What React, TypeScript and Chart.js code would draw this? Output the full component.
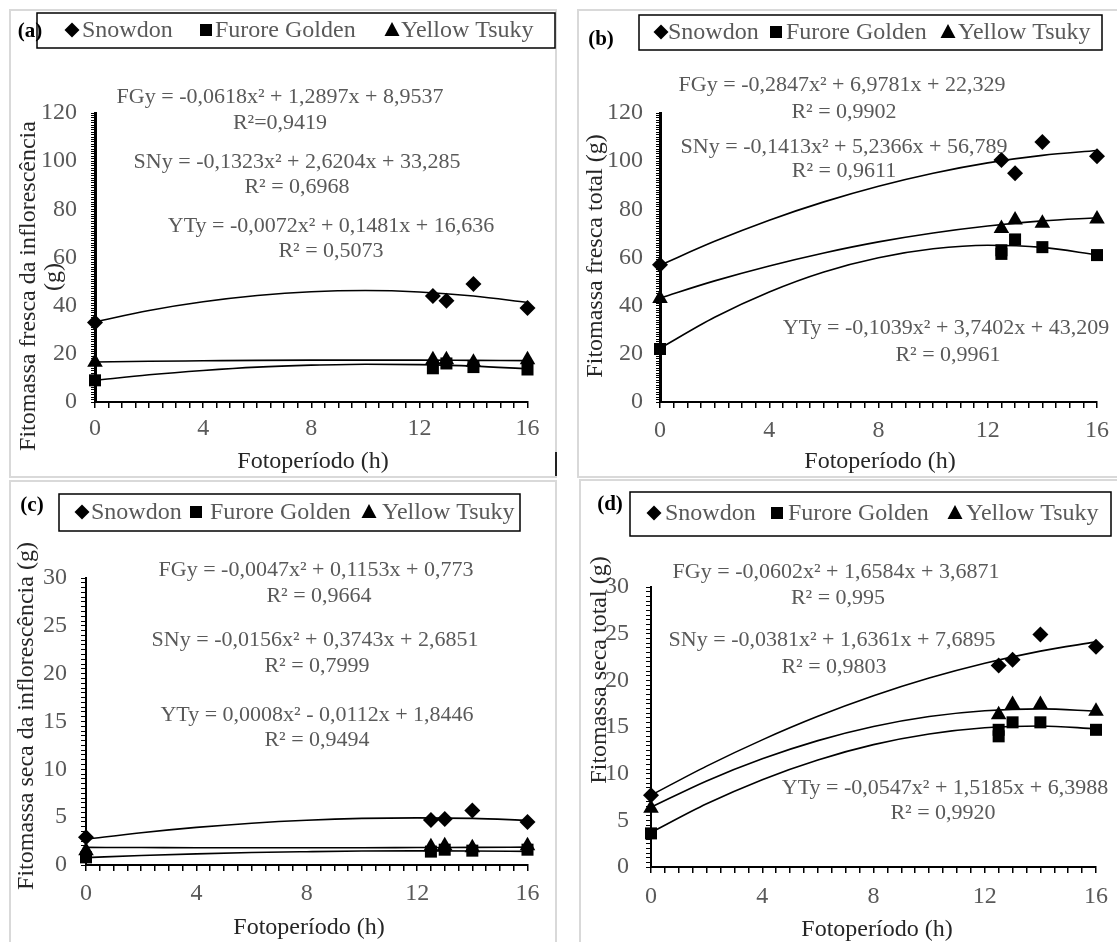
import React, { useEffect, useRef } from 'react';
import { Chart, registerables } from 'chart.js';

Chart.register(...registerables);

const FONT = "'Liberation Serif', 'Times New Roman', Times, serif";
Chart.defaults.font.family = FONT;

// ---------------- DATA ----------------
const seriesNames = ['Snowdon', 'Furore Golden', 'Yellow Tsuky'];
const xTickLabels = [0, 4, 8, 12, 16];
const yTickLabelsFresh = [0, 20, 40, 60, 80, 100, 120];
const yTickLabelsDry = [0, 5, 10, 15, 20, 25, 30];
const xAxisTitle = 'Fotoperíodo (h)';

const photoperiodObs = [0, 12.5, 13, 14, 16];
const photoperiodObsFG = [0, 12.5, 12.5, 13, 14, 16];
const photoperiodFit = [0, 2, 4, 6, 8, 10, 12, 14, 16];

// (a) Fitomassa fresca da inflorescência
const aSnowdon = [33, 44, 42, 49, 39];
const aFurore = [9, 14, 16, 14.5, 13.5];
const aYellow = [16.5, 17.5, 17.5, 16.5, 17.5];
const aSnowdonFit = [33.3, 38.0, 41.6, 44.2, 45.8, 46.3, 45.7, 44.0, 41.3];
const aFuroreFit = [9.0, 11.3, 13.1, 14.5, 15.3, 15.7, 15.5, 14.9, 13.8];
const aYellowFit = [16.6, 16.9, 17.1, 17.3, 17.4, 17.4, 17.4, 17.3, 17.2];
const aEquations = [
  'FGy = -0,0618x² + 1,2897x + 8,9537', 'R²=0,9419',
  'SNy = -0,1323x² + 2,6204x + 33,285', 'R² = 0,6968',
  'YTy = -0,0072x² + 0,1481x + 16,636', 'R² = 0,5073',
];
const aTitle = ['Fitomassa fresca da inflorescência', '(g)'];

// (b) Fitomassa fresca total
const bSnowdon = [57, 100.5, 95, 108, 102];
const bFurore = [22, 61.5, 63, 67.5, 64.3, 61];
const bYellow = [43, 72, 75.6, 74.2, 76];
const bSnowdonFit = [56.8, 66.7, 75.5, 83.1, 89.6, 95.0, 99.3, 102.4, 104.4];
const bFuroreFit = [22.3, 35.2, 45.7, 54.0, 59.9, 63.6, 65.1, 64.2, 61.1];
const bYellowFit = [43.2, 50.3, 56.5, 61.9, 66.5, 70.2, 73.1, 75.2, 76.5];
const bEquations = [
  'FGy = -0,2847x² + 6,9781x + 22,329', 'R² = 0,9902',
  'SNy = -0,1413x² + 5,2366x + 56,789', 'R² = 0,9611',
  'YTy = -0,1039x² + 3,7402x + 43,209', 'R² = 0,9961',
];
const bTitle = ['Fitomassa fresca total (g)'];

// (c) Fitomassa seca da inflorescência
const cSnowdon = [2.9, 4.7, 4.8, 5.7, 4.5];
const cFurore = [0.8, 1.4, 1.6, 1.5, 1.6];
const cYellow = [1.5, 1.9, 2.0, 1.8, 2.0];
const cSnowdonFit = [2.69, 3.37, 3.93, 4.37, 4.68, 4.87, 4.93, 4.87, 4.68];
const cFuroreFit = [0.77, 0.99, 1.16, 1.3, 1.39, 1.46, 1.48, 1.47, 1.42];
const cYellowFit = [1.84, 1.83, 1.81, 1.81, 1.81, 1.81, 1.83, 1.84, 1.87];
const cEquations = [
  'FGy = -0,0047x² + 0,1153x + 0,773', 'R² = 0,9664',
  'SNy = -0,0156x² + 0,3743x + 2,6851', 'R² = 0,7999',
  'YTy = 0,0008x² - 0,0112x + 1,8446', 'R² = 0,9494',
];
const cTitle = ['Fitomassa seca da inflorescência (g)'];

// (d) Fitomassa seca total
const dSnowdon = [7.7, 21.6, 22.2, 24.9, 23.6];
const dFurore = [3.6, 14.0, 14.7, 15.5, 15.5, 14.7];
const dYellow = [6.3, 16.3, 17.4, 17.4, 16.7];
const dSnowdonFit = [7.69, 10.81, 13.62, 16.14, 18.34, 20.24, 21.83, 23.13, 24.12];
const dFuroreFit = [3.69, 6.77, 9.36, 11.47, 13.11, 14.25, 14.92, 15.11, 14.81];
const dYellowFit = [6.4, 9.22, 11.59, 13.54, 15.05, 16.12, 16.74, 16.94, 16.7];
const dEquations = [
  'FGy = -0,0602x² + 1,6584x + 3,6871', 'R² = 0,995',
  'SNy = -0,0381x² + 1,6361x + 7,6895', 'R² = 0,9803',
  'YTy = -0,0547x² + 1,5185x + 6,3988', 'R² = 0,9920',
];
const dTitle = ['Fitomassa seca total (g)'];

// ---------------- LAYOUT ----------------
const panels: any[] = [
  {
    key: 'a', letter: '(a)', ox: 0, oy: 0, cw: 557, ch: 478,
    area: { L: 95, T: 113, R: 527.5, B: 402 },
    yMax: 120, yMinor: 1, yLabels: yTickLabelsFresh, yTickLen: 4, yPad: 14, yBorder: 3, xPad: 6,
    sn: aSnowdon, fg: aFurore, fgX: photoperiodObs, yt: aYellow,
    snFit: aSnowdonFit, fgFit: aFuroreFit, ytFit: aYellowFit,
    letterPos: [30, 32],
    legendBox: [37, 13, 555, 48], legendY: 30, legendMarkers: [72, 206, 392], legendText: [82, 215, 401],
    equations: aEquations,
    eqPos: [[280, 97], [280, 123], [297, 162], [297, 187], [331, 226], [331, 251]],
    yTitle: aTitle, yTitlePos: [[29, 286], [54, 277]],
    xTitlePos: [313, 462],
  },
  {
    key: 'b', letter: '(b)', ox: 557, oy: 0, cw: 560, ch: 478,
    area: { L: 660, T: 113, R: 1098, B: 402 },
    yMax: 120, yMinor: 1, yLabels: yTickLabelsFresh, yTickLen: 4, yPad: 13, yBorder: 3, xPad: 8,
    sn: bSnowdon, fg: bFurore, fgX: photoperiodObsFG, yt: bYellow,
    snFit: bSnowdonFit, fgFit: bFuroreFit, ytFit: bYellowFit,
    letterPos: [601, 40],
    legendBox: [639, 15, 1102, 50], legendY: 32, legendMarkers: [661, 776, 948], legendText: [668, 786, 958],
    equations: bEquations,
    eqPos: [[842, 85], [844, 112], [844, 147], [844, 171], [946, 328], [948, 355]],
    yTitle: bTitle, yTitlePos: [[596, 256]],
    xTitlePos: [880, 462],
  },
  {
    key: 'c', letter: '(c)', ox: 0, oy: 478, cw: 557, ch: 464,
    area: { L: 86, T: 578, R: 527.5, B: 865 },
    yMax: 30, yMinor: 0.5, yLabels: yTickLabelsDry, yTickLen: 5, yPad: 14, yBorder: 2, xPad: 8,
    sn: cSnowdon, fg: cFurore, fgX: photoperiodObs, yt: cYellow,
    snFit: cSnowdonFit, fgFit: cFuroreFit, ytFit: cYellowFit,
    letterPos: [32, 506],
    legendBox: [59, 494, 520, 531], legendY: 512, legendMarkers: [82, 196, 369], legendText: [91, 210, 382],
    equations: cEquations,
    eqPos: [[316, 570], [319, 596], [315, 640], [317, 666], [317, 715], [317, 740]],
    yTitle: cTitle, yTitlePos: [[27, 716]],
    xTitlePos: [309, 928],
  },
  {
    key: 'd', letter: '(d)', ox: 557, oy: 478, cw: 560, ch: 464,
    area: { L: 651, T: 587, R: 1101, B: 867 },
    yMax: 30, yMinor: 0.5, yLabels: yTickLabelsDry, yTickLen: 5, yPad: 17, yBorder: 2, xPad: 9,
    sn: dSnowdon, fg: dFurore, fgX: photoperiodObsFG, yt: dYellow,
    snFit: dSnowdonFit, fgFit: dFuroreFit, ytFit: dYellowFit,
    letterPos: [610, 505],
    legendBox: [630, 492, 1111, 536], legendY: 513, legendMarkers: [654, 777, 955], legendText: [665, 788, 966],
    equations: dEquations,
    eqPos: [[836, 572], [838, 598], [832, 640], [834, 667], [945, 788], [943, 813]],
    yTitle: dTitle, yTitlePos: [[600, 670]],
    xTitlePos: [877, 930],
  },
];

const GRAY = '#595959';
const DARK = '#262626';

function drawMarker(ctx: CanvasRenderingContext2D, kind: number, x: number, y: number) {
  ctx.beginPath();
  if (kind === 0) {
    ctx.moveTo(x, y - 7.5); ctx.lineTo(x + 7.5, y); ctx.lineTo(x, y + 7.5); ctx.lineTo(x - 7.5, y);
  } else if (kind === 1) {
    ctx.rect(x - 6, y - 6, 12, 12);
  } else {
    ctx.moveTo(x, y - 8); ctx.lineTo(x + 7.5, y + 6); ctx.lineTo(x - 7.5, y + 6);
  }
  ctx.closePath();
  ctx.fillStyle = '#000';
  ctx.fill();
}

function buildConfig(p: any) {
  const L = p.area.L - p.ox, T = p.area.T - p.oy, R = p.area.R - p.ox, B = p.area.B - p.oy;
  const WY = 60, HX = 50;
  const padding = { left: L - WY, top: T, right: p.cw - R, bottom: p.ch - B - HX };
  const pts = (xs: number[], ys: number[]) => ys.map((y, i) => ({ x: xs[i], y }));
  const markerDs = (label: string, xs: number[], ys: number[], style: string, radius: number) => ({
    type: 'scatter', label, data: pts(xs, ys), pointStyle: style, pointRadius: radius, pointHoverRadius: radius,
    backgroundColor: '#000', borderColor: '#000', borderWidth: 0, showLine: false, order: 1, clip: false,
  });
  const fitDs = (label: string, ys: number[]) => ({
    type: 'line', label, data: pts(photoperiodFit, ys), borderColor: '#000', borderWidth: 1.6,
    pointRadius: 0, pointHoverRadius: 0, cubicInterpolationMode: 'monotone', fill: false, order: 2, clip: false,
  });

  const annot = {
    id: 'annot_' + p.key,
    afterDraw(chart: any) {
      const ctx: CanvasRenderingContext2D = chart.ctx;
      const X = (x: number) => x - p.ox;
      const Y = (y: number) => y - p.oy;
      ctx.save();
      // legend box
      const [bx1, by1, bx2, by2] = p.legendBox;
      ctx.strokeStyle = '#000';
      ctx.lineWidth = 1.5;
      ctx.strokeRect(X(bx1), Y(by1), bx2 - bx1, by2 - by1);
      ctx.font = `24px ${FONT}`;
      ctx.textBaseline = 'middle';
      ctx.textAlign = 'left';
      for (let i = 0; i < 3; i++) {
        drawMarker(ctx, i, X(p.legendMarkers[i]), Y(p.legendY));
        ctx.fillStyle = GRAY;
        ctx.fillText(seriesNames[i], X(p.legendText[i]), Y(p.legendY + 1));
      }
      // panel letter
      ctx.font = `bold 21px ${FONT}`;
      ctx.fillStyle = '#000';
      ctx.textAlign = 'center';
      ctx.fillText(p.letter, X(p.letterPos[0]), Y(p.letterPos[1]));
      // equations
      ctx.font = `22px ${FONT}`;
      ctx.fillStyle = GRAY;
      p.equations.forEach((t: string, i: number) => {
        ctx.fillText(t, X(p.eqPos[i][0]), Y(p.eqPos[i][1]));
      });
      // x title
      ctx.font = `24px ${FONT}`;
      ctx.fillStyle = DARK;
      ctx.fillText(xAxisTitle, X(p.xTitlePos[0]), Y(p.xTitlePos[1]));
      // y title
      p.yTitle.forEach((t: string, i: number) => {
        ctx.save();
        ctx.translate(X(p.yTitlePos[i][0]), Y(p.yTitlePos[i][1]));
        ctx.rotate(-Math.PI / 2);
        ctx.fillText(t, 0, 0);
        ctx.restore();
      });
      ctx.restore();
    },
  };

  return {
    type: 'scatter',
    data: {
      datasets: [
        markerDs(seriesNames[0], photoperiodObs, p.sn, 'rectRot', 8),
        markerDs(seriesNames[1], p.fgX, p.fg, 'rect', 8.5),
        markerDs(seriesNames[2], photoperiodObs, p.yt, 'triangle', 9),
        fitDs('SN fit', p.snFit),
        fitDs('FG fit', p.fgFit),
        fitDs('YT fit', p.ytFit),
      ],
    },
    options: {
      responsive: false,
      maintainAspectRatio: false,
      devicePixelRatio: 1,
      animation: false,
      events: [],
      layout: { padding },
      plugins: { legend: { display: false }, tooltip: { enabled: false }, title: { display: false } },
      scales: {
        x: {
          type: 'linear', position: 'bottom', min: 0, max: 16,
          afterFit: (s: any) => { s.height = HX; },
          ticks: {
            stepSize: 0.5, autoSkip: false, maxRotation: 0, minRotation: 0, padding: p.xPad,
            color: GRAY, font: { family: FONT, size: 24 },
            callback: (v: any) => (xTickLabels.includes(Number(v)) ? String(v) : ''),
          },
          grid: { display: true, drawOnChartArea: false, drawTicks: true, tickLength: 6, color: '#000', lineWidth: 1.5 },
          border: { display: true, color: '#000', width: 2 },
          title: { display: false },
        },
        y: {
          type: 'linear', position: 'left', min: 0, max: p.yMax,
          afterFit: (s: any) => { s.width = WY; },
          ticks: {
            stepSize: p.yMinor, autoSkip: false, padding: p.yPad,
            color: GRAY, font: { family: FONT, size: 24 },
            callback: (v: any) => (p.yLabels.includes(Number(v)) ? String(v) : ''),
          },
          grid: { display: true, drawOnChartArea: false, drawTicks: true, tickLength: p.yTickLen, color: '#000', lineWidth: 1 },
          border: { display: true, color: '#000', width: p.yBorder },
          title: { display: false },
        },
      },
    },
    plugins: [annot],
  };
}

function Panel({ p }: { p: any }) {
  const ref = useRef<HTMLCanvasElement>(null);
  useEffect(() => {
    if (!ref.current) return;
    const chart = new Chart(ref.current, buildConfig(p) as any);
    return () => chart.destroy();
  }, [p]);
  return (
    <canvas
      ref={ref}
      width={p.cw}
      height={p.ch}
      style={{ position: 'absolute', left: p.ox, top: p.oy, width: p.cw, height: p.ch }}
    />
  );
}

const borderStyle = '2px solid #d9d9d9';

export default function App() {
  return (
    <div style={{ position: 'absolute', left: 0, top: 0, width: 1117, height: 942, overflow: 'hidden', background: '#fff' }}>
      <div style={{ position: 'absolute', left: 9, top: 9, width: 548, height: 469, border: borderStyle, boxSizing: 'border-box' }} />
      <div style={{ position: 'absolute', left: 577, top: 9, width: 600, height: 469, border: borderStyle, boxSizing: 'border-box' }} />
      <div style={{ position: 'absolute', left: 9, top: 480, width: 548, height: 500, border: borderStyle, boxSizing: 'border-box' }} />
      <div style={{ position: 'absolute', left: 579, top: 479, width: 600, height: 500, border: borderStyle, boxSizing: 'border-box' }} />
      <div style={{ position: 'absolute', left: 555, top: 452, width: 2, height: 24, background: '#222' }} />
      {panels.map((p) => (
        <Panel key={p.key} p={p} />
      ))}
    </div>
  );
}
